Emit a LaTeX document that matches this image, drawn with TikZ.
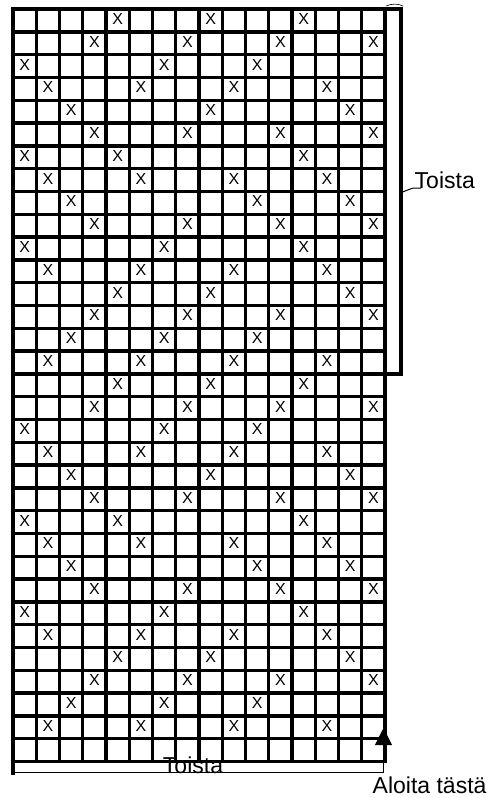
\documentclass[tikz,border=0pt]{standalone}
\usepackage{fontspec}
\setmainfont{Liberation Sans}
\usetikzlibrary{arrows.meta}
\begin{document}
\begin{tikzpicture}[x=1pt,y=-1pt,line width=3.4pt,line cap=rect,
  stitch/.style={font=\fontsize{16}{16}\selectfont,inner sep=0pt,yshift=1.5pt},
  label/.style={font=\fontsize{23}{23}\selectfont,inner sep=0pt},
  thin line/.style={line width=1pt,line cap=butt}]
\useasboundingbox (0,0) rectangle (493,798);
\foreach \i in {1,...,16} \draw ({13+\i*23.25},9) -- ({13+\i*23.25},761);
\draw (13,9) -- (13,773);
\foreach \j in {0,...,33} \draw (13,{9+\j*22.8}) -- (385,{9+\j*22.8});
\foreach \k in {0,16}
  \foreach \r/\cols in {1/{5,9,13},2/{4,8,12,16},3/{1,7,11},4/{2,6,10,14},
      5/{3,9,15},6/{4,8,12,16},7/{1,5,13},8/{2,6,10,14},9/{3,11,15},
      10/{4,8,12,16},11/{1,7,13},12/{2,6,10,14},13/{5,9,15},
      14/{4,8,12,16},15/{3,7,11},16/{2,6,10,14}}
    \foreach \c in \cols
      \node[stitch] (x-\k-\r-\c) at ({13+(\c-0.5)*23.25},{9+(\r+\k-0.5)*22.8}) {X};
\draw (385,9) -- (401,9) -- (401,374) -- (387,374);
\draw[thin line,line width=0.6pt] (386,6) .. controls (392,3.5) and (398,3.5) .. (403,6);
\node[label,anchor=base west] (repeat-rows) at (413,188) {Toista};
\coordinate (bracket-mid) at (402.5,192);
\draw[thin line] (bracket-mid) -- (repeat-rows.base west) -- ++(8,0);
\draw[thin line] (13,772.5) -- (383.5,772.5);
\node[label,anchor=base] (repeat-cols) at (193,773) {Toista};
\coordinate (start-pt) at (383.5,772.5);
\coordinate (start-tip) at (383.5,728);
\draw[thin line,-{Triangle[length=17pt,width=17pt]}] (start-pt) -- (start-tip);
\node[label,anchor=base west] (start-here) at (371,793) {Aloita tästä};
\end{tikzpicture}
\end{document}
